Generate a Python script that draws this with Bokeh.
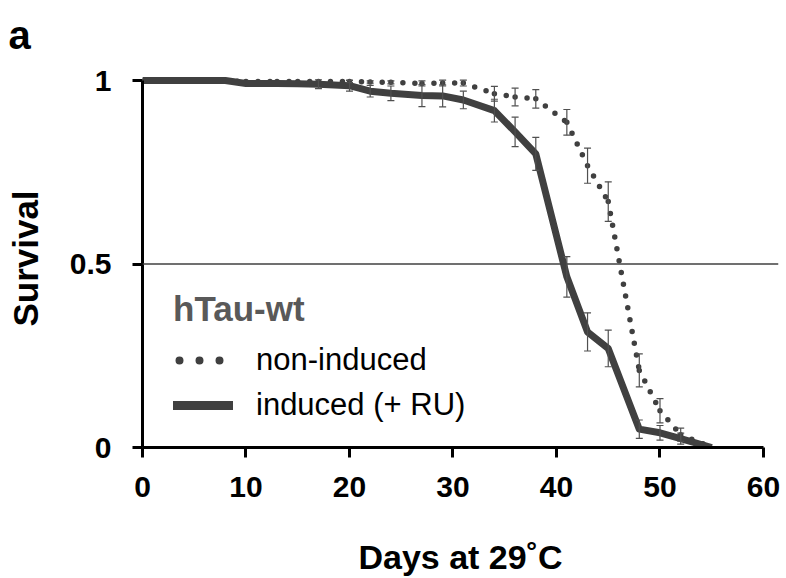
from bokeh.plotting import figure
from bokeh.models import (Range1d, FixedTicker, Span, Whisker, TeeHead, ColumnDataSource,
                          Legend, LegendItem)
from bokeh.embed import file_html
from bokeh.resources import INLINE

# ---------------- data ----------------
days = [0, 3, 6, 8, 10, 13, 15, 17, 20, 22, 24, 27, 29, 31, 34, 36, 38, 41, 43, 45, 48, 50, 52, 55]
surv_non = [1.0, 1.0, 1.0, 1.0, 0.997, 0.997, 0.997, 0.997, 0.997, 0.996, 0.995, 0.992, 0.993,
            0.993, 0.964, 0.955, 0.95, 0.886, 0.768, 0.67, 0.21, 0.10, 0.035, 0.0]
err_non = [0, 0, 0, 0, 0, 0, 0, 0, 0.003, 0.003, 0.004, 0.007, 0.008, 0.008, 0.02, 0.024,
           0.025, 0.035, 0.048, 0.054, 0.045, 0.033, 0.018, 0]
surv_ind = [1.0, 1.0, 1.0, 1.0, 0.992, 0.992, 0.991, 0.99, 0.986, 0.971, 0.965, 0.959, 0.958,
            0.947, 0.918, 0.86, 0.80, 0.465, 0.315, 0.27, 0.05, 0.04, 0.024, 0.0]
err_ind = [0, 0, 0, 0, 0, 0, 0, 0.012, 0.015, 0.016, 0.02, 0.03, 0.03, 0.024, 0.031, 0.04,
           0.045, 0.055, 0.052, 0.05, 0.025, 0.02, 0.015, 0]
x_ticks = [0, 10, 20, 30, 40, 50, 60]
y_ticks = [0, 0.5, 1]
y_tick_labels = {0: "0", 0.5: "0.5", 1: "1"}
legend_title = "hTau-wt"
label_non = "non-induced"
label_ind = "induced (+ RU)"
x_title = "Days at 29˚C"
y_title = "Survival"
panel_letter = "a"

FONT = "Liberation Sans"
DARK = "#404040"
BAR = "#505050"

p = figure(frame_width=636, frame_height=378, output_backend="svg", toolbar_location=None,
           x_range=Range1d(0, 61.45), y_range=Range1d(0, 1.03),
           min_border_left=142, min_border_top=69, min_border_right=8, min_border_bottom=0,
           title=panel_letter)
p.title.align = "left"
p.title.vertical_align = "top"
p.title.standoff = 22
p.title.offset = -134
p.title.text_font = FONT
p.title.text_font_size = "40px"
p.title.text_font_style = "bold"
p.title.text_color = "black"
p.outline_line_color = None
p.xgrid.visible = False
p.ygrid.visible = False

# 0.5 reference line
p.add_layout(Span(location=0.5, dimension="width", line_color=DARK, line_width=1.5))

# non-induced: dotted, each segment restarts its dot pattern
seg_x = [[days[i], days[i + 1]] for i in range(len(days) - 1)]
seg_y = [[surv_non[i], surv_non[i + 1]] for i in range(len(days) - 1)]
p.multi_line(xs=seg_x, ys=seg_y, line_color=DARK, line_width=5.5, line_dash="0 12",
             line_cap="round")

# induced: thick solid line
p.line(days, surv_ind, line_color=DARK, line_width=7, line_join="round", line_cap="butt")

# error bars
def bars(vals, errs):
    xs = [d for d, e in zip(days, errs) if e > 0]
    up = [v + e for v, e in zip(vals, errs) if e > 0]
    lo = [v - e for v, e in zip(vals, errs) if e > 0]
    src = ColumnDataSource(dict(x=xs, upper=up, lower=lo))
    w = Whisker(base="x", upper="upper", lower="lower", source=src, line_color=BAR,
                line_width=1.2, level="overlay",
                upper_head=TeeHead(size=7, line_color=BAR, line_width=1.2),
                lower_head=TeeHead(size=7, line_color=BAR, line_width=1.2))
    p.add_layout(w)

bars(surv_non, err_non)
bars(surv_ind, err_ind)

# legend proxies (single point: draws nothing in the plot)
src1 = ColumnDataSource(dict(x=days[:1], y=surv_non[:1]))
src2 = ColumnDataSource(dict(x=days[:1], y=surv_ind[:1]))
leg_dot = p.line("x", "y", source=src1, line_color=DARK, line_width=8, line_dash="0 20",
                 line_dash_offset=14, line_cap="round")
leg_sol = p.line("x", "y", source=src2, line_color=DARK, line_width=9, line_cap="round")
legend = Legend(items=[LegendItem(label=label_non, renderers=[leg_dot]),
                       LegendItem(label=label_ind, renderers=[leg_sol])],
                title=legend_title, location=(31, 24), orientation="vertical",
                border_line_alpha=0, background_fill_alpha=0, padding=0, margin=0,
                glyph_width=60, glyph_height=20, label_standoff=23, spacing=9,
                title_standoff=13,
                label_text_font=FONT, label_text_font_size="31px", label_text_color="black",
                title_text_font=FONT, title_text_font_size="35px", title_text_font_style="bold",
                title_text_color="#595959")
p.add_layout(legend)

# axes
for ax in (p.xaxis[0], p.yaxis[0]):
    ax.axis_line_width = 3
    ax.axis_line_color = "black"
    ax.major_tick_line_width = 3
    ax.major_tick_line_color = "black"
    ax.major_tick_in = 0
    ax.major_tick_out = 10
    ax.minor_tick_line_color = None
    ax.major_label_text_font = FONT
    ax.major_label_text_font_size = "30px"
    ax.major_label_text_font_style = "bold"
    ax.major_label_text_color = "black"
    ax.axis_label_text_font = FONT
    ax.axis_label_text_font_style = "bold"
    ax.axis_label_text_color = "black"

p.xaxis.ticker = FixedTicker(ticks=x_ticks)
p.xaxis.bounds = (0, 60)
p.xaxis.major_label_standoff = 19
p.xaxis.axis_label = x_title
p.xaxis.axis_label_text_font_size = "34px"
p.xaxis.axis_label_standoff = 38

p.yaxis.ticker = FixedTicker(ticks=y_ticks)
p.yaxis.bounds = (0, 1)
p.yaxis.major_label_overrides = y_tick_labels
p.yaxis.major_label_standoff = 21
p.yaxis.axis_label = y_title
p.yaxis.axis_label_text_font_size = "35px"
p.yaxis.axis_label_standoff = 22

open("out.html", "w").write(file_html(p, INLINE))
